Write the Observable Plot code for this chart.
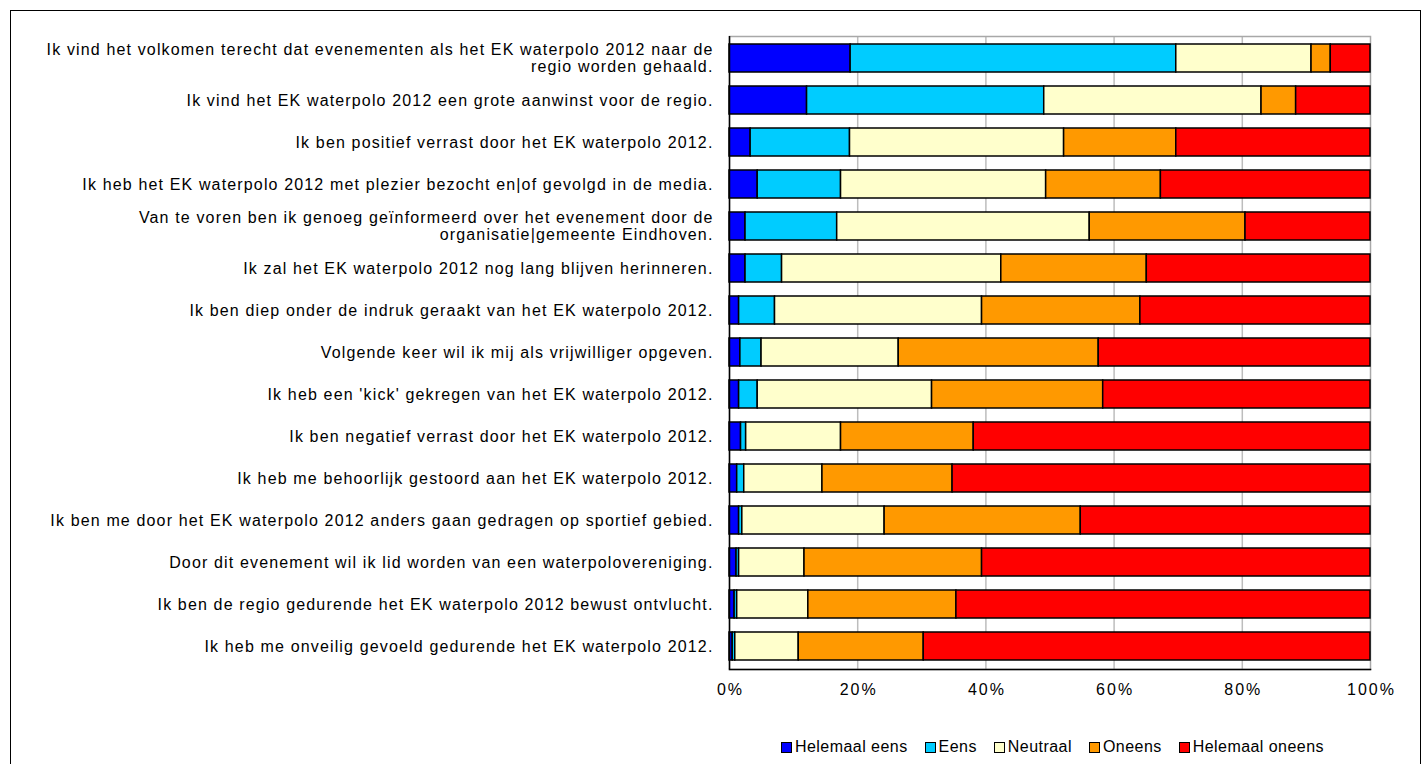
<!DOCTYPE html>
<html>
<head>
<meta charset="utf-8">
<script src="https://cdn.jsdelivr.net/npm/d3@7"></script>
<script src="https://cdn.jsdelivr.net/npm/@observablehq/plot@0.6"></script>
<style>
  body { margin: 0; background: #fff; font-family: "Liberation Sans", Arial, sans-serif; }
  #frame { position: absolute; left: 10px; top: 10px; width: 1411px; height: 800px; border: 1px solid #000; box-sizing: border-box; pointer-events: none; }
  #chart { position: absolute; left: 0; top: 0; }
  #chart g[aria-label="y-axis tick label"] text { letter-spacing: 1.15px; }
  #chart g[aria-label="x-axis tick label"] text { letter-spacing: 2px; }
  #legend { position: absolute; top: 738px; left: 781px; display: flex; gap: 17px; font-size: 16px; color: #000; line-height: 18px; white-space: nowrap; letter-spacing: 0.45px; }
  #legend .item { display: flex; align-items: center; }
  #legend .sw { width: 9px; height: 9px; border: 1.5px solid #000; margin-right: 3px; box-sizing: content-box; }
</style>
</head>
<body>
<div id="chart"></div>
<div id="legend"></div>
<div id="frame"></div>
<script>
const categories = [
  "Ik vind het volkomen terecht dat evenementen als het EK waterpolo 2012 naar de\nregio worden gehaald.",
  "Ik vind het EK waterpolo 2012 een grote aanwinst voor de regio.",
  "Ik ben positief verrast door het EK waterpolo 2012.",
  "Ik heb het EK waterpolo 2012 met plezier bezocht en|of gevolgd in de media.",
  "Van te voren ben ik genoeg geïnformeerd over het evenement door de\norganisatie|gemeente Eindhoven.",
  "Ik zal het EK waterpolo 2012 nog lang blijven herinneren.",
  "Ik ben diep onder de indruk geraakt van het EK waterpolo 2012.",
  "Volgende keer wil ik mij als vrijwilliger opgeven.",
  "Ik heb een 'kick' gekregen van het EK waterpolo 2012.",
  "Ik ben negatief verrast door het EK waterpolo 2012.",
  "Ik heb me behoorlijk gestoord aan het EK waterpolo 2012.",
  "Ik ben me door het EK waterpolo 2012 anders gaan gedragen op sportief gebied.",
  "Door dit evenement wil ik lid worden van een waterpolovereniging.",
  "Ik ben de regio gedurende het EK waterpolo 2012 bewust ontvlucht.",
  "Ik heb me onveilig gevoeld gedurende het EK waterpolo 2012."
];
const series = ["Helemaal eens", "Eens", "Neutraal", "Oneens", "Helemaal oneens"];
const colors = ["#0000FF", "#00CCFF", "#FFFFCC", "#FF9900", "#FF0000"];

const helemaalEens   = [18.9, 12.1,  3.3,  4.4,  2.5,  2.5,  1.5,  1.7,  1.5,  1.8,  1.2,  1.5,  1.1,  0.8,  0.5];
const eens           = [50.8, 37.0, 15.5, 13.0, 14.3,  5.7,  5.6,  3.3,  2.9,  0.8,  1.1,  0.5,  0.4,  0.4,  0.4];
const neutraal       = [21.1, 33.9, 33.4, 32.0, 39.4, 34.2, 32.3, 21.4, 27.2, 14.8, 12.2, 22.2, 10.2, 11.1,  9.9];
const oneens         = [ 3.0,  5.4, 17.5, 17.9, 24.3, 22.7, 24.7, 31.2, 26.7, 20.7, 20.3, 30.6, 27.7, 23.1, 19.5];
const helemaalOneens = [ 6.2, 11.6, 30.3, 32.7, 19.5, 34.9, 35.9, 42.4, 41.7, 61.9, 65.2, 45.2, 60.6, 64.6, 69.7];

const xTicks = [0, 20, 40, 60, 80, 100];

const seriesValues = [helemaalEens, eens, neutraal, oneens, helemaalOneens];
const data = categories.flatMap((c, i) =>
  seriesValues.map((arr, j) => ({category: c, series: series[j], value: arr[i]}))
);

const chart = Plot.plot({
  width: 1422,
  height: 715,
  marginLeft: 729,
  marginRight: 52,
  marginTop: 36,
  marginBottom: 46,
  style: {fontFamily: "'Liberation Sans', Arial, sans-serif", fontSize: "16px", color: "#000", background: "#fff"},
  x: {domain: [0, 100]},
  y: {domain: categories, paddingInner: 0.33, paddingOuter: 0.165},
  color: {domain: series, range: colors},
  marks: [
    Plot.gridX(xTicks.slice(1, -1), {stroke: "#bdbdbd", strokeOpacity: 1, strokeWidth: 1.5}),
    Plot.frame({stroke: "#a8a8a8", strokeWidth: 1.5}),
    Plot.barX(data, {x: "value", y: "category", fill: "series", stroke: "#000", strokeWidth: 1.5}),
    Plot.ruleX([0], {stroke: "#000", strokeWidth: 1.5}),
    Plot.frame({anchor: "bottom", stroke: "#000", strokeWidth: 1.5}),
    Plot.axisX(xTicks, {tickSize: 0, tickPadding: 14, tickFormat: d => d + "%", label: null, fill: "#000", dx: 1}),
    Plot.axisY({tickSize: 0, tickPadding: 16, lineHeight: 1.05, label: null, fill: "#000"})
  ]
});
document.getElementById("chart").appendChild(chart);

const legend = document.getElementById("legend");
series.forEach((s, i) => {
  const item = document.createElement("div");
  item.className = "item";
  const sw = document.createElement("span");
  sw.className = "sw";
  sw.style.background = colors[i];
  const t = document.createElement("span");
  t.textContent = s;
  item.appendChild(sw);
  item.appendChild(t);
  legend.appendChild(item);
});
</script>
</body>
</html>
